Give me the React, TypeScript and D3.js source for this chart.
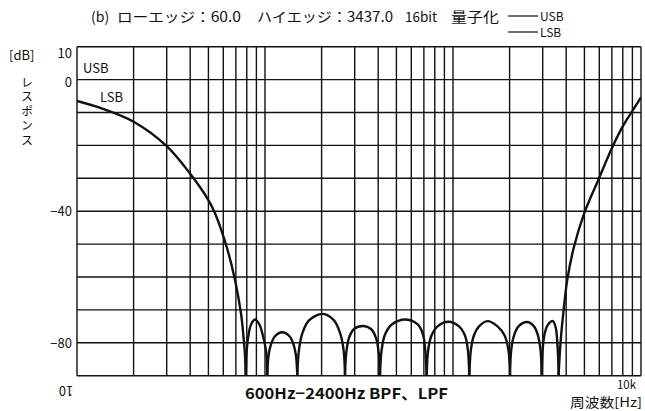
import * as d3 from "d3";

// frequency response: [Hz, dB]
const responseHz = [
  10, 13.3, 20, 30, 40, 50, 54.2, 62.5, 69.2, 74.5, 76.8, 78.3, 79,
  79.8, 81.5, 84.2, 88.5, 93.5, 97.6, 101.6, 102.8,
  104.4, 107.6, 113, 123.6, 135, 141.8, 146.2, 148.5,
  151.7, 158.3, 171.4, 202.9, 232.8, 250.6, 261.6, 266.4,
  270.6, 279.8, 297.5, 333.3, 366.3, 389.4, 402.5, 409,
  417.6, 434.8, 470.9, 562, 651.4, 692.5, 711.4, 724.5,
  738.8, 768.4, 827.3, 944, 1076, 1158, 1199, 1221,
  1246, 1293, 1375, 1526, 1725, 1879, 1969, 2010,
  2042, 2111, 2231, 2475, 2697, 2832, 2920, 2964,
  3000, 3067, 3182, 3396, 3523, 3588, 3628, 3645,
  3731, 3861, 4055, 4402, 4992, 5925, 7066, 8052, 9057, 10000,
];
const responseDb = [
  -6.5, -8.6, -12.8, -20.2, -28.6, -36.6, -40.6, -50.8, -60.8, -71, -78, -84, -90,
  -83, -78, -74.5, -72.9, -74.5, -78, -83, -90,
  -84, -80.5, -78, -76.8, -78, -80.5, -84, -90,
  -82, -77, -73.2, -71.2, -73.2, -77, -82, -90,
  -83, -78.5, -75.8, -74.9, -75.8, -78.5, -83, -90,
  -82, -77.5, -74.5, -72.9, -74.5, -77.5, -82, -90,
  -82, -77.8, -75, -73.6, -75, -77.8, -82, -90,
  -82, -77.7, -75, -73.4, -75, -77.7, -82, -90,
  -82, -77.8, -75, -73.7, -75, -77.8, -82, -90,
  -82, -77.5, -74.7, -73.4, -75.5, -80, -85, -90,
  -80, -71, -60.8, -50.8, -40.6, -30.5, -20.3, -13.9, -9.3, -5.4,
];

const gridHz = [
  10, 20, 30, 40, 50, 60, 70, 80, 90,
  100, 200, 300, 400, 500, 600, 700, 800, 900,
  1000, 2000, 3000, 4000, 5000, 6000, 7000, 8000, 9000, 10000,
];
const gridDb = [10, 0, -10, -20, -30, -40, -50, -60, -70, -80, -90];
const dbLabels = [
  { db: 10, text: "10", dy: 11 },
  { db: 0, text: "0", dy: 7 },
  { db: -40, text: "−40", dy: 5 },
  { db: -80, text: "−80", dy: 5 },
];

const font = "'Noto Sans CJK JP', 'Noto Sans', sans-serif";
const ink = "#111";

export default function App() {
  const x = d3.scaleLog().domain([10, 10000]).range([77, 641]);
  const y = d3.scaleLinear().domain([-90, 10]).range([375.7, 46.7]);

  // split the trace at each null so the dips stay sharp
  const segments: [number, number][][] = [];
  let cur: [number, number][] = [];
  responseHz.forEach((hz, i) => {
    const p: [number, number] = [hz, responseDb[i]];
    cur.push(p);
    if (responseDb[i] <= -90 && cur.length > 1) {
      segments.push(cur);
      cur = [p];
    }
  });
  if (cur.length > 1) segments.push(cur);

  const line = d3
    .line<[number, number]>()
    .x((d) => x(d[0]))
    .y((d) => y(d[1]))
    .curve(d3.curveCatmullRom.alpha(0.5));

  const [x0, x1] = x.range();
  const [yb, yt] = y.range();

  return (
    <svg
      width={645}
      height={411}
      style={{ position: "absolute", left: 0, top: 0, background: "#fff" }}
      fontFamily={font}
    >
      <defs>
        <clipPath id="plot">
          <rect x={x0} y={yt} width={x1 - x0} height={yb - yt} />
        </clipPath>
      </defs>

      {/* grid */}
      {gridHz.map((hz) => (
        <line key={"v" + hz} x1={x(hz)} x2={x(hz)} y1={yt} y2={yb} stroke={ink} strokeWidth={1.4} />
      ))}
      {gridDb.map((db) => (
        <line key={"h" + db} x1={x0} x2={x1} y1={y(db)} y2={y(db)} stroke={ink} strokeWidth={1.4} />
      ))}

      {/* response */}
      <g clipPath="url(#plot)">
        {segments.map((seg, i) => (
          <path key={i} d={line(seg) ?? ""} fill="none" stroke={ink} strokeWidth={2.4} strokeLinejoin="round" />
        ))}
      </g>

      {/* y labels */}
      {dbLabels.map((l) => (
        <text key={l.text} x={72} y={y(l.db) + l.dy} textAnchor="end" fontSize={13} fill={ink}>
          {l.text}
        </text>
      ))}
      <text x={9} y={60} fontSize={13} fill={ink}>[dB]</text>
      <text x={27} y={76} fontSize={12} fill={ink} letterSpacing={2.5} style={{ writingMode: "vertical-rl" }}>
        レスポンス
      </text>
      <text x={83} y={73} fontSize={13} fill={ink}>USB</text>
      <text x={100} y={102} fontSize={13} fill={ink}>LSB</text>

      {/* x labels */}
      <text x={66} y={390} fontSize={13} fill={ink} textAnchor="middle" dominantBaseline="middle" transform="rotate(180 66 390)">
        10
      </text>
      <text x={636} y={388.5} fontSize={11.5} fill={ink} textAnchor="end">
        10k
      </text>
      <text x={245} y={399} fontSize={15} fontWeight="bold" fill={ink} textLength={203} lengthAdjust="spacingAndGlyphs">
        600Hz−2400Hz BPF、LPF
      </text>
      <text x={570} y={406.5} fontSize={13} fill={ink} textLength={72} lengthAdjust="spacingAndGlyphs">
        周波数[Hz]
      </text>

      {/* title */}
      <text x={91} y={22} fontSize={14} fill={ink}>(b)</text>
      <text x={117} y={22} fontSize={14} fill={ink} textLength={124} lengthAdjust="spacingAndGlyphs">
        ローエッジ：60.0
      </text>
      <text x={257} y={22} fontSize={14} fill={ink} textLength={136} lengthAdjust="spacingAndGlyphs">
        ハイエッジ：3437.0
      </text>
      <text x={405} y={22} fontSize={14} fill={ink} textLength={32} lengthAdjust="spacingAndGlyphs">16bit</text>
      <text x={451} y={22} fontSize={14} fill={ink} textLength={48} lengthAdjust="spacingAndGlyphs">量子化</text>
      <line x1={508} x2={538} y1={16} y2={16} stroke={ink} strokeWidth={1.2} />
      <text x={540} y={20.5} fontSize={12} fill={ink}>USB</text>
      <line x1={508} x2={538} y1={32} y2={32} stroke={ink} strokeWidth={1.2} />
      <text x={540} y={36.5} fontSize={12} fill={ink}>LSB</text>
    </svg>
  );
}
